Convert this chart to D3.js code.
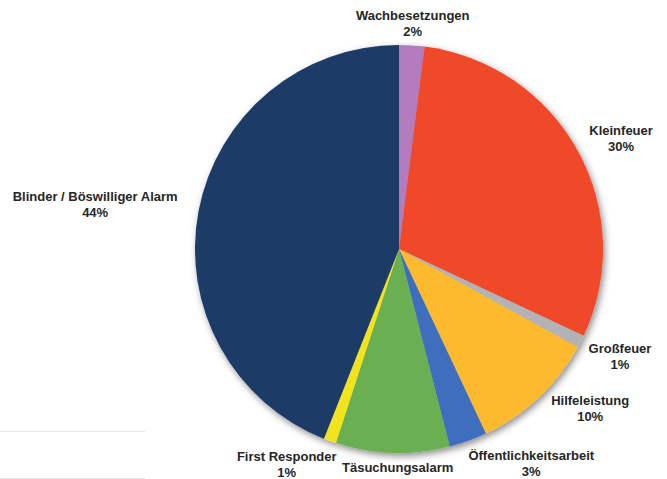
<!DOCTYPE html>
<html>
<head>
<meta charset="utf-8">
<script src="https://cdn.jsdelivr.net/npm/d3@7/dist/d3.min.js"></script>
<style>
html,body{margin:0;padding:0;background:#fff;}
svg{display:block;}
</style>
</head>
<body>
<svg id="chart" width="667" height="479"></svg>
<script>
// ---- data ----
const categories = ["Wachbesetzungen","Kleinfeuer","Großfeuer","Hilfeleistung","Öffentlichkeitsarbeit","Täsuchungsalarm","First Responder","Blinder / Böswilliger Alarm"];
const values = [2, 30, 1, 10, 3, 9, 1, 44];
const percentLabels = ["2%","30%","1%","10%","3%","9%","1%","44%"];
const colors = ["#B27BBE","#F0492B","#B3B3B5","#FDBA2E","#3F6EBF","#6BB052","#F2E41E","#1B3B66"];
// label nudges relative to outer-arc centroid (layout only)
const labelNudge = [[-1,7.5],[17,2],[12.5,1],[31,-11],[53,-6],[6,-7],[-33,-5],[-74,-1]];

const svg = d3.select("#chart");
const cx = 399, cy = 249, r = 204;

const defs = svg.append("defs");
const f = defs.append("filter").attr("id","shadow").attr("x","-20%").attr("y","-20%").attr("width","140%").attr("height","140%");
f.append("feDropShadow").attr("dx",2).attr("dy",3).attr("stdDeviation",3.5).attr("flood-color","#000").attr("flood-opacity",0.45);

// faint lines bottom-left
const lineY = d3.scaleLinear().domain([0,1]).range([431,478]);
svg.append("g").selectAll("line").data([0,1]).join("line")
  .attr("x1",0).attr("x2",145).attr("y1",d=>lineY(d)+0.5).attr("y2",d=>lineY(d)+0.5)
  .attr("stroke","#e2e2e2").attr("stroke-width",1);

const pie = d3.pie().sort(null).value(d=>d);
const arcs = pie(values);
const arc = d3.arc().innerRadius(0).outerRadius(r);
const labelArc = d3.arc().innerRadius(r+30).outerRadius(r+30);

const g = svg.append("g").attr("transform",`translate(${cx},${cy})`);
g.append("g").attr("filter","url(#shadow)")
  .selectAll("path").data(arcs).join("path")
  .attr("d",arc)
  .attr("fill",(d,i)=>colors[i]);

const lg = g.append("g")
  .attr("font-family","'Liberation Sans', Arial, Helvetica, sans-serif")
  .attr("font-weight","bold").attr("font-size",13).attr("fill","#262626")
  .attr("text-anchor","middle");
arcs.forEach((d,i)=>{
  const c = labelArc.centroid(d);
  const x = c[0] + labelNudge[i][0], y = c[1] + labelNudge[i][1];
  const t = lg.append("text");
  t.append("tspan").attr("x",x).attr("y",y-8).attr("dy","0.35em").text(categories[i]);
  t.append("tspan").attr("x",x).attr("y",y+8).attr("dy","0.35em").text(percentLabels[i]);
});
</script>
</body>
</html>
